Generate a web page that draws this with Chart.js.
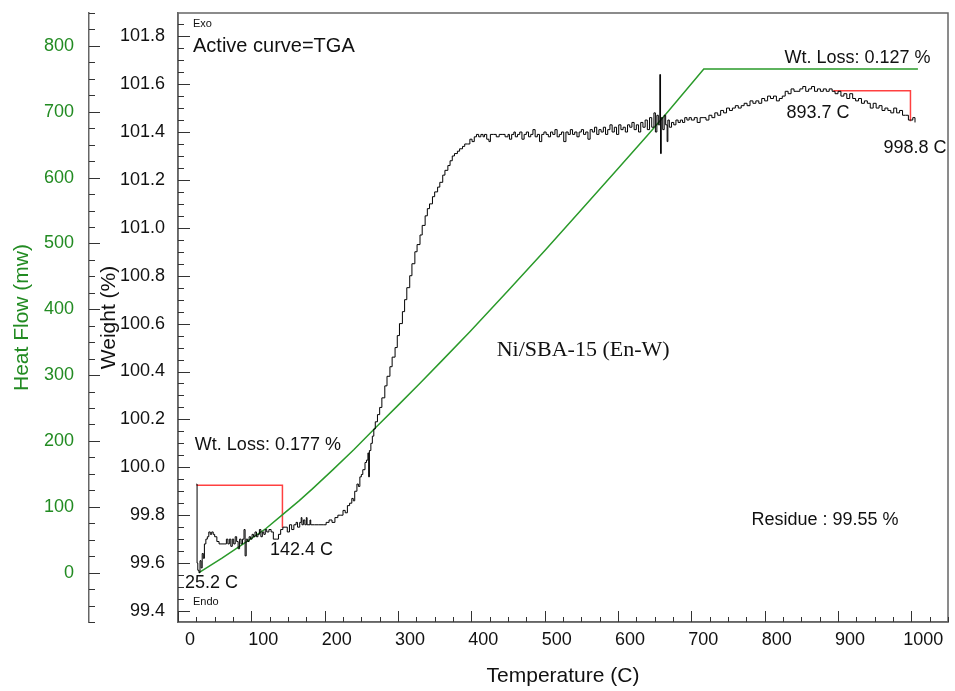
<!DOCTYPE html>
<html>
<head>
<meta charset="utf-8">
<script src="https://cdn.jsdelivr.net/npm/chart.js@4.4.1/dist/chart.umd.min.js"></script>
<style>
  html, body { margin: 0; padding: 0; background: #fff; }
</style>
</head>
<body>
<canvas id="myChart" width="955" height="691"></canvas>
<script>
// TGA weight curve (temperature in C, weight in %)
var tgaTemp = [
  25.2, 26, 27, 28.6, 30, 31.5, 33, 34.5, 36, 38, 40, 42, 44, 46, 48, 50, 53, 56, 60, 64, 66, 68, 70, 72, 74, 76, 78, 80, 82, 84, 86, 88, 90, 91.5, 93, 95, 97, 99,
  101, 103, 105, 107, 109, 111, 113, 115, 117, 119, 121, 124, 127, 130, 134, 137, 140, 143, 146, 149, 152, 155, 158, 161, 163, 166, 168, 169, 171, 173, 175, 176, 180, 181, 186, 192, 198,
  202, 206, 210, 214, 218, 222, 225, 228, 231, 234, 237, 239, 241, 244, 246, 248, 250, 252, 255, 257, 259, 260, 261, 263, 265, 267, 269, 272, 275, 278, 282, 285, 289, 292, 296, 299,
  302, 306, 309, 312, 316, 319, 323, 326, 330, 333, 337, 340, 343, 347, 350, 354, 357, 361, 364, 368, 371, 374, 377, 381, 384, 388, 391, 395, 398,
  401, 404, 407, 410, 413, 416, 418, 421, 424, 426, 430, 434, 438, 442, 446, 450, 452, 455, 458, 460, 463, 466, 469, 472, 475, 478, 481, 484, 487, 490, 493, 496, 499,
  502, 505, 508, 511, 514, 517, 520, 523, 526, 529, 532, 535, 538, 541, 544, 547, 550, 553, 556, 559, 562, 565, 568, 571, 574, 577, 580, 583, 586, 589, 592, 595, 598,
  601, 604, 607, 610, 613, 616, 619, 622, 625, 628, 631, 634, 637, 640, 643, 646, 649, 651, 653, 655, 657, 658, 659, 661, 663, 665, 667, 668, 670, 673, 676, 679, 682, 685, 688, 691, 694, 697,
  700, 704, 708, 712, 716, 720, 724, 728, 732, 736, 740, 744, 748, 752, 756, 760, 764, 768, 772, 776, 780, 784, 788, 792, 796,
  800, 804, 808, 812, 816, 820, 824, 828, 832, 836, 840, 844, 848, 852, 856, 860, 864, 868, 872, 876, 880, 884, 888, 892, 896,
  900, 904, 908, 912, 916, 920, 924, 928, 932, 936, 940, 944, 948, 952, 956, 960, 964, 968, 972, 976, 980, 984, 988, 992, 996, 999, 1002, 1005
];
var tgaWeight = [
  99.93, 99.60, 99.57, 99.56, 99.61, 99.58, 99.64, 99.62, 99.68, 99.70, 99.71, 99.73, 99.72, 99.73, 99.72, 99.71, 99.69, 99.68, 99.68, 99.68, 99.70, 99.68, 99.70, 99.67, 99.70, 99.68, 99.71, 99.69, 99.66, 99.70, 99.68, 99.70, 99.74, 99.63, 99.70, 99.69, 99.71, 99.70,
  99.72, 99.71, 99.73, 99.71, 99.72, 99.74, 99.71, 99.73, 99.72, 99.74, 99.73, 99.74, 99.73, 99.70, 99.70, 99.72, 99.74, 99.75, 99.75, 99.73, 99.76, 99.74, 99.76, 99.77, 99.75, 99.77, 99.79, 99.76, 99.78, 99.76, 99.79, 99.76, 99.78, 99.76, 99.76, 99.76, 99.76,
  99.77, 99.78, 99.77, 99.79, 99.80, 99.80, 99.82, 99.81, 99.84, 99.85, 99.87, 99.86, 99.90, 99.93, 99.92, 99.96, 99.97, 99.99, 100.02, 100.03, 100.06, 99.96, 100.07, 100.10, 100.13, 100.16, 100.19, 100.22, 100.25, 100.29, 100.34, 100.38, 100.42, 100.46, 100.50, 100.55,
  100.60, 100.65, 100.70, 100.75, 100.80, 100.85, 100.90, 100.93, 100.97, 101.01, 101.05, 101.08, 101.10, 101.13, 101.15, 101.17, 101.19, 101.22, 101.24, 101.26, 101.28, 101.30, 101.31, 101.32, 101.33, 101.34, 101.35, 101.35, 101.37,
  101.36, 101.38, 101.39, 101.38, 101.39, 101.38, 101.39, 101.37, 101.36, 101.39, 101.39, 101.38, 101.39, 101.39, 101.38, 101.39, 101.37, 101.39, 101.40, 101.38, 101.39, 101.40, 101.37, 101.39, 101.40, 101.38, 101.39, 101.41, 101.38, 101.39, 101.36, 101.39, 101.40,
  101.39, 101.38, 101.40, 101.39, 101.41, 101.38, 101.39, 101.40, 101.36, 101.40, 101.39, 101.41, 101.39, 101.40, 101.38, 101.40, 101.41, 101.39, 101.40, 101.37, 101.41, 101.40, 101.42, 101.39, 101.41, 101.40, 101.42, 101.39, 101.41, 101.43, 101.40, 101.42, 101.39,
  101.43, 101.41, 101.42, 101.40, 101.43, 101.42, 101.44, 101.41, 101.43, 101.40, 101.44, 101.42, 101.45, 101.41, 101.46, 101.42, 101.48, 101.40, 101.47, 101.43, 101.64, 101.31, 101.46, 101.41, 101.47, 101.43, 101.36, 101.45, 101.42, 101.44, 101.43, 101.45, 101.44, 101.45, 101.44, 101.46, 101.45, 101.46,
  101.45, 101.46, 101.44, 101.46, 101.46, 101.45, 101.47, 101.46, 101.48, 101.47, 101.49, 101.48, 101.50, 101.49, 101.50, 101.51, 101.50, 101.51, 101.52, 101.51, 101.53, 101.52, 101.53, 101.52, 101.54,
  101.53, 101.55, 101.54, 101.55, 101.53, 101.54, 101.55, 101.57, 101.56, 101.58, 101.57, 101.57, 101.58, 101.59, 101.57, 101.58, 101.59, 101.57, 101.58, 101.57, 101.58, 101.57, 101.58, 101.57, 101.56,
  101.57, 101.55, 101.56, 101.54, 101.56, 101.54, 101.53, 101.54, 101.52, 101.53, 101.52, 101.50, 101.52, 101.50, 101.51, 101.49, 101.50, 101.49, 101.48, 101.50, 101.48, 101.49, 101.47, 101.47, 101.45, 101.45, 101.46, 101.44
];

// heat flow curve (temperature in C, mW)
var hfTemp = [28.6, 60, 93.6, 120, 142.6, 165, 184, 211, 240, 271, 300, 330, 360, 398, 450, 500, 550, 598, 640, 668, 717, 1009];
var hfValue = [0, 22, 47, 67, 88, 109, 128, 156, 187, 222, 254, 287.5, 322, 366, 428, 489, 551, 611, 664, 700, 765, 765];

// weight loss brackets
var loss1Temp = [25.2, 142.4, 142.4];
var loss1Weight = [99.925, 99.925, 99.748];
var loss2Temp = [893.7, 998.8, 998.8];
var loss2Weight = [101.572, 101.572, 101.445];

var tempTicks = [0, 100, 200, 300, 400, 500, 600, 700, 800, 900, 1000];
var weightTicks = [99.4, 99.6, 99.8, 100.0, 100.2, 100.4, 100.6, 100.8, 101.0, 101.2, 101.4, 101.6, 101.8];
var heatTicks = [0, 100, 200, 300, 400, 500, 600, 700, 800];

var notes = [
  { text: 'Wt. Loss: 0.177 %', t: 23, w: 100.093 },
  { text: '142.4 C', t: 125.3, w: 99.654 },
  { text: '25.2 C', t: 9.5, w: 99.516 },
  { text: 'Wt. Loss: 0.127 %', t: 827, w: 101.71 },
  { text: '893.7 C', t: 829.7, w: 101.48 },
  { text: '998.8 C', t: 961.9, w: 101.334 },
  { text: 'Residue : 99.55 %', t: 782, w: 99.779 }
];

var sans = "'Liberation Sans', Arial, sans-serif";
var green = '#228b22';

function pairs(xs, ys) {
  return xs.map(function (x, i) { return { x: x, y: ys[i] }; });
}

// keep the axes from reserving room for half a tick label at the ends
function noEndPad(s) {
  s.paddingTop = 0;
  s.paddingBottom = 0;
  s.paddingLeft = 0;
  s.paddingRight = 0;
}

var extras = {
  id: 'extras',
  afterDatasetsDraw: function (chart) {
    var ctx = chart.ctx, a = chart.chartArea;
    var xs = chart.scales.x, yw = chart.scales.yWeight, yh = chart.scales.yHeat;
    ctx.save();
    ctx.strokeStyle = '#666';
    ctx.lineWidth = 1.5;
    ctx.strokeRect(a.left, a.top, a.right - a.left, a.bottom - a.top);

    // inward tick marks, minor and major
    ctx.strokeStyle = '#333';
    ctx.lineWidth = 1;
    ctx.beginPath();
    for (var t = 0; t <= xs.max; t += 25) {
      var px = Math.round(xs.getPixelForValue(t)) + 0.5;
      ctx.moveTo(px, a.bottom);
      ctx.lineTo(px, a.bottom - (t % 100 === 0 ? 11 : 5));
    }
    for (var k = Math.ceil(yw.min / 0.05); k * 0.05 <= yw.max; k++) {
      var py = Math.round(yw.getPixelForValue(k * 0.05)) + 0.5;
      ctx.moveTo(a.left, py);
      ctx.lineTo(a.left + (k % 4 === 0 ? 12 : 6), py);
    }
    for (var v = -75; v <= yh.max; v += 25) {
      var hy = Math.round(yh.getPixelForValue(v)) + 0.5;
      ctx.moveTo(yh.right, hy);
      ctx.lineTo(yh.right + (v % 100 === 0 ? 11 : 6), hy);
    }
    ctx.stroke();

    ctx.fillStyle = '#111';
    ctx.textBaseline = 'middle';
    ctx.textAlign = 'left';
    ctx.font = '11px ' + sans;
    ctx.fillText('Exo', a.left + 15, a.top + 11);
    ctx.fillText('Endo', a.left + 15, a.bottom - 20);
    ctx.font = '20px ' + sans;
    ctx.fillText('Active curve=TGA', a.left + 15, a.top + 33);
    ctx.font = '18px ' + sans;
    notes.forEach(function (n) {
      ctx.fillText(n.text, xs.getPixelForValue(n.t), yw.getPixelForValue(n.w));
    });
    ctx.font = "22px 'Liberation Serif', 'Times New Roman', serif";
    ctx.fillText('Ni/SBA-15 (En-W)', xs.getPixelForValue(434.6), yw.getPixelForValue(100.49));
    ctx.restore();
  }
};

var ctx = document.getElementById('myChart').getContext('2d');
var myChart = new Chart(ctx, {
  type: 'line',
  data: {
    datasets: [{
      label: 'Weight',
      data: pairs(tgaTemp, tgaWeight),
      yAxisID: 'yWeight',
      borderColor: '#000',
      borderWidth: 1,
      pointRadius: 0,
      stepped: true
    }, {
      label: 'Heat Flow',
      data: pairs(hfTemp, hfValue),
      yAxisID: 'yHeat',
      borderColor: '#2a9a2a',
      borderWidth: 1.5,
      pointRadius: 0
    }, {
      label: 'Loss 1',
      data: pairs(loss1Temp, loss1Weight),
      yAxisID: 'yWeight',
      borderColor: '#ff4040',
      borderWidth: 1.5,
      pointRadius: 0
    }, {
      label: 'Loss 2',
      data: pairs(loss2Temp, loss2Weight),
      yAxisID: 'yWeight',
      borderColor: '#ff4040',
      borderWidth: 1.5,
      pointRadius: 0
    }]
  },
  options: {
    responsive: false,
    animation: false,
    devicePixelRatio: 1,
    layout: { padding: { top: 13, right: 7, left: 0, bottom: 0 } },
    plugins: {
      legend: { display: false },
      tooltip: { enabled: false }
    },
    scales: {
      x: {
        type: 'linear',
        min: 0,
        max: 1050,
        afterBuildTicks: function (s) { s.ticks = tempTicks.map(function (v) { return { value: v }; }); },
        afterFit: function (s) { s.height = 69; noEndPad(s); },
        ticks: { font: { family: sans, size: 18 }, color: '#111', padding: 7, labelOffset: 12, maxRotation: 0, autoSkip: false,
          callback: function (v) { return String(v); } },
        grid: { display: false, drawTicks: false },
        border: { display: true, color: '#666', width: 1.5 },
        title: { display: true, text: 'Temperature (C)', color: '#111', font: { family: sans, size: 21 }, padding: { top: 0, bottom: 2 } }
      },
      yHeat: {
        type: 'linear',
        position: 'left',
        weight: 1,
        min: -75,
        max: 850,
        afterBuildTicks: function (s) { s.ticks = heatTicks.map(function (v) { return { value: v }; }); },
        afterFit: function (s) { s.width = 89; noEndPad(s); },
        ticks: { font: { family: sans, size: 18 }, color: green, padding: 15, autoSkip: false },
        grid: { display: false, drawTicks: false },
        border: { display: true, color: '#666', width: 1.5 },
        title: { display: true, text: 'Heat Flow (mw)', color: green, font: { family: sans, size: 21 }, padding: { top: 10, bottom: 0 } }
      },
      yWeight: {
        type: 'linear',
        position: 'left',
        weight: 0,
        min: 99.354,
        max: 101.897,
        afterBuildTicks: function (s) { s.ticks = weightTicks.map(function (v) { return { value: v }; }); },
        afterFit: function (s) { s.width = 89; noEndPad(s); },
        ticks: { font: { family: sans, size: 18 }, color: '#111', padding: 13, autoSkip: false,
          callback: function (v) { return v.toFixed(1); } },
        grid: { display: false, drawTicks: false },
        border: { display: true, color: '#666', width: 1.5 },
        title: { display: true, text: 'Weight (%)', color: '#111', font: { family: sans, size: 21 }, padding: { top: 8, bottom: 0 } }
      }
    }
  },
  plugins: [extras]
});
</script>
</body>
</html>
